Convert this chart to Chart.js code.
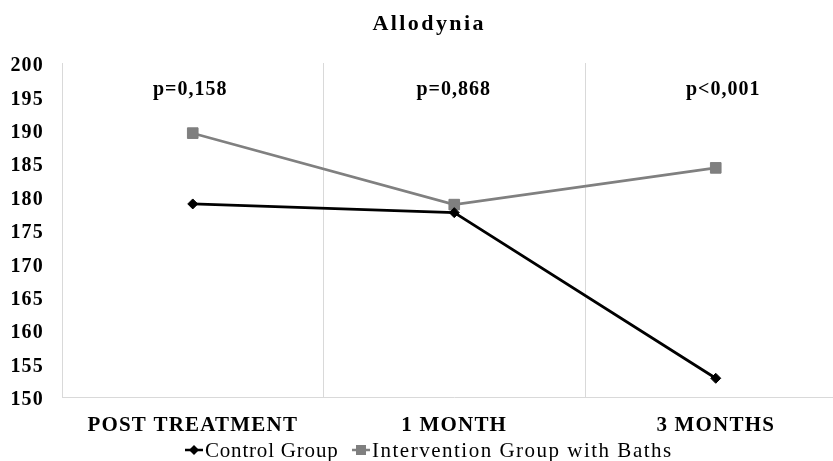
<!DOCTYPE html>
<html>
<head>
<meta charset="utf-8">
<script src="https://cdn.jsdelivr.net/npm/chart.js@4/dist/chart.umd.min.js"></script>
<style>
  html, body { margin: 0; padding: 0; background: #fff; }
  #wrap { width: 833px; height: 461px; overflow: hidden; }
</style>
</head>
<body>
<div id="wrap"><canvas id="c" width="855" height="461"></canvas></div>
<script>
const categories = ['POST TREATMENT', '1 MONTH', '3 MONTHS'];
const controlGroup = [178.9, 177.6, 152.8];
const interventionGroup = [189.5, 178.8, 184.3];
const pValues = ['p=0,158', 'p=0,868', 'p<0,001'];
const seriesNames = ['Control Group', 'Intervention Group with Baths'];
const chartTitle = 'Allodynia';

const SERIF = '"Liberation Serif", "Times New Roman", serif';

// Draws text with a given letter spacing, centred or left-aligned.
function spacedText(ctx, text, x, y, font, spacing, align, color) {
  ctx.save();
  ctx.font = font;
  ctx.letterSpacing = spacing + 'px';
  ctx.fillStyle = color;
  ctx.textBaseline = 'alphabetic';
  const w = ctx.measureText(text).width - spacing;
  const sx = align === 'center' ? x - w / 2 : x;
  ctx.textAlign = 'left';
  ctx.fillText(text, sx, y);
  ctx.restore();
}

const annotations = {
  id: 'annotations',
  beforeDraw(chart) {
    chart.ctx.letterSpacing = '1.2px';
  },
  afterDraw(chart) {
    const ctx = chart.ctx;
    const xs = chart.scales.x;
    ctx.save();
    ctx.letterSpacing = '0px';
    // title
    spacedText(ctx, chartTitle, 428, 30, 'bold 22px ' + SERIF, 2.4, 'center', '#000');
    // p-values above each category
    const nudge = [-3, -1, 7];
    pValues.forEach((p, i) => {
      spacedText(ctx, p, xs.getPixelForValue(i) + nudge[i], 95, 'bold 20px ' + SERIF, 1, 'center', '#000');
    });
    // legend: short line with marker, then the series name
    const ds = chart.data.datasets;
    const items = [
      { x: 185, ds: ds[0], spacing: 0.8 },
      { x: 352, ds: ds[1], spacing: 1.5 }
    ];
    const ly = 450;
    items.forEach(it => {
      ctx.strokeStyle = it.ds.borderColor;
      ctx.lineWidth = 2.5;
      ctx.beginPath();
      ctx.moveTo(it.x, ly);
      ctx.lineTo(it.x + 18, ly);
      ctx.stroke();
      ctx.fillStyle = it.ds.pointBackgroundColor;
      const cx = it.x + 9;
      if (it.ds.pointStyle === 'rectRot') {
        ctx.beginPath();
        ctx.moveTo(cx, ly - 5);
        ctx.lineTo(cx + 5, ly);
        ctx.lineTo(cx, ly + 5);
        ctx.lineTo(cx - 5, ly);
        ctx.closePath();
        ctx.fill();
      } else {
        ctx.fillRect(cx - 5, ly - 5, 10, 10);
      }
      spacedText(ctx, it.ds.label, it.x + 20, 457, '21px ' + SERIF, it.spacing, 'left', '#000');
    });
    ctx.restore();
  }
};

new Chart(document.getElementById('c'), {
  type: 'line',
  data: {
    labels: categories,
    datasets: [
      {
        label: seriesNames[0],
        data: controlGroup,
        borderColor: '#000000',
        backgroundColor: '#000000',
        pointBackgroundColor: '#000000',
        pointBorderColor: '#000000',
        borderWidth: 2.8,
        pointStyle: 'rectRot',
        pointRadius: 5,
        pointBorderWidth: 1,
        tension: 0
      },
      {
        label: seriesNames[1],
        data: interventionGroup,
        borderColor: '#808080',
        backgroundColor: '#7f7f7f',
        pointBackgroundColor: '#7f7f7f',
        pointBorderColor: '#7f7f7f',
        borderWidth: 2.6,
        pointStyle: 'rect',
        pointRadius: 7.5,
        pointBorderWidth: 1,
        tension: 0
      }
    ]
  },
  options: {
    responsive: false,
    animation: false,
    layout: { padding: { top: 63, right: 0, bottom: 0, left: 0 } },
    plugins: {
      legend: { display: false },
      title: { display: false },
      tooltip: { enabled: false }
    },
    scales: {
      x: {
        offset: true,
        grid: { display: true, offset: true, color: '#d9d9d9', lineWidth: 1, drawTicks: false },
        border: { display: true, color: '#d9d9d9', width: 1 },
        ticks: {
          padding: 16,
          color: '#000',
          font: { family: SERIF, size: 21, weight: 'bold' }
        },
        afterFit(scale) { scale.height = 64; }
      },
      y: {
        min: 150,
        max: 200,
        ticks: {
          stepSize: 5,
          padding: 18,
          labelOffset: 3,
          color: '#000',
          font: { family: SERIF, size: 20, weight: 'bold' }
        },
        grid: { display: false, drawTicks: false },
        border: { display: true, color: '#d9d9d9', width: 1 },
        afterFit(scale) { scale.width = 62; }
      }
    }
  },
  plugins: [annotations]
});
</script>
</body>
</html>
